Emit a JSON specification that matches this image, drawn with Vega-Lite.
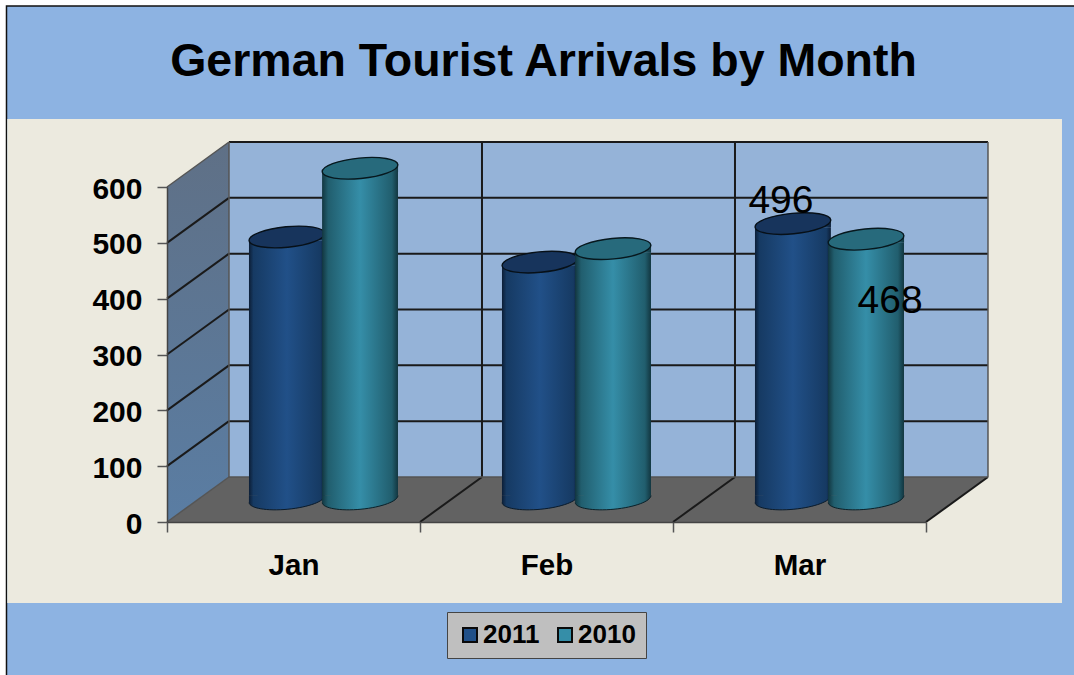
{
"$schema":"https://vega.github.io/schema/vega-lite/v6.json",
"width":759,"height":335,"autosize":"none",
"padding":{"left":167,"top":187,"right":148,"bottom":153},
"background":"#ffffff",
"config":{"view":{"stroke":null},"font":"Liberation Sans"},
"title":{"text":"German Tourist Arrivals by Month","font":"Liberation Sans","fontSize":46.5,"fontWeight":"bold","color":"#000000","anchor":"middle","baseline":"alphabetic","offset":-117.5,"dx":-3},
"datasets":{
"bars":[
{"month":"Jan","series":"2011","value":472},{"month":"Jan","series":"2010","value":595},
{"month":"Feb","series":"2011","value":427},{"month":"Feb","series":"2010","value":451},
{"month":"Mar","series":"2011","value":496},{"month":"Mar","series":"2010","value":468}],
"gridDark":[
{"x0":0.245,"x1":3.245,"y0":180.6,"y1":180.6},{"x0":0.245,"x1":3.245,"y0":280.6,"y1":280.6},{"x0":0.245,"x1":3.245,"y0":380.6,"y1":380.6},{"x0":0.245,"x1":3.245,"y0":480.6,"y1":480.6},{"x0":0.245,"x1":3.245,"y0":580.6,"y1":580.6},{"x0":0.245,"x1":3.245,"y0":680.6,"y1":680.6},
{"x0":0,"x1":0.245,"y0":100,"y1":180.6},{"x0":0,"x1":0.245,"y0":200,"y1":280.6},{"x0":0,"x1":0.245,"y0":300,"y1":380.6},{"x0":0,"x1":0.245,"y0":400,"y1":480.6},{"x0":0,"x1":0.245,"y0":500,"y1":580.6},
{"x0":1.245,"x1":1.245,"y0":80.6,"y1":680.6},{"x0":2.245,"x1":2.245,"y0":80.6,"y1":680.6},
{"x0":1,"x1":1.245,"y0":0,"y1":80.6},{"x0":2,"x1":2.245,"y0":0,"y1":80.6},{"x0":3,"x1":3.245,"y0":0,"y1":80.6}],
"gridEdge":[
{"x0":0.245,"x1":0.245,"y0":80.6,"y1":680.6},{"x0":3.245,"x1":3.245,"y0":80.6,"y1":680.6},
{"x0":0.245,"x1":3.245,"y0":80.6,"y1":80.6},
{"x0":0,"x1":0.245,"y0":0,"y1":80.6},{"x0":0,"x1":0.245,"y0":600,"y1":680.6}]
},
"layer":[
{"data":{"values":[{"x0":-0.6344,"x1":3.62,"y0":-290,"y1":924}]},
 "mark":{"type":"rect","fill":"#8DB3E2","stroke":"#111111","strokeWidth":1.5},
 "encoding":{
  "x":{"field":"x0","type":"quantitative","scale":{"domain":[0,3],"nice":false,"zero":false},
   "axis":{"title":null,"values":[0,0.5,1,1.5,2,2.5,3],"zindex":1,"grid":false,"labelExpr":"datum.value==0.5?'Jan':datum.value==1.5?'Feb':datum.value==2.5?'Mar':''","labelFont":"Liberation Sans","labelFontSize":29.5,"labelFontWeight":"bold","labelColor":"#000000","labelPadding":19,"labelFlush":false,"labelOverlap":false,"labelAngle":0,"tickSize":10,"tickWidth":1.5,"tickColor":"#555555","tickOpacity":{"condition":{"test":"datum.value==floor(datum.value)","value":1},"value":0},"domainColor":"#444444","domainWidth":1.5}},
  "x2":{"field":"x1"},
  "y":{"field":"y0","type":"quantitative","scale":{"domain":[0,600],"nice":false,"zero":false},
   "axis":{"title":null,"values":[0,100,200,300,400,500,600],"zindex":1,"grid":false,"labelFont":"Liberation Sans","labelFontSize":30,"labelFontWeight":"bold","labelColor":"#000000","labelPadding":15,"labelOffset":2,"labelOverlap":false,"tickSize":10,"tickWidth":1.5,"tickColor":"#555555","domainColor":"#444444","domainWidth":1.5}},
  "y2":{"field":"y1"}}},
{"data":{"values":[{"x0":-0.6315,"x1":3.5375,"y0":-145,"y1":721.8}]},
 "mark":{"type":"rect","fill":"#ECEADF"},
 "encoding":{"x":{"field":"x0","type":"quantitative","axis":{"title":null}},"x2":{"field":"x1"},"y":{"field":"y0","type":"quantitative","axis":{"title":null}},"y2":{"field":"y1"}}},
{"data":{"values":[{"x0":0.245,"x1":3.245,"y0":80.6,"y1":680.6}]},
 "mark":{"type":"rect","fill":"#95B3D8"},
 "encoding":{"x":{"field":"x0","type":"quantitative","axis":{"title":null}},"x2":{"field":"x1"},"y":{"field":"y0","type":"quantitative","axis":{"title":null}},"y2":{"field":"y1"}}},
{"data":{"values":[{"x":0,"lo":0,"hi":600},{"x":0.245,"lo":80.6,"hi":680.6}]},
 "mark":{"type":"area","fill":{"gradient":"linear","x1":0,"y1":0,"x2":0,"y2":1,"stops":[{"offset":0,"color":"#5F7086"},{"offset":1,"color":"#5A7DA3"}]}},
 "encoding":{"x":{"field":"x","type":"quantitative","axis":{"title":null}},"y":{"field":"lo","type":"quantitative","axis":{"title":null}},"y2":{"field":"hi"}}},
{"data":{"values":[{"x":0,"lo":0,"hi":0},{"x":0.245,"lo":0,"hi":80.6},{"x":3,"lo":0,"hi":80.6},{"x":3.245,"lo":80.6,"hi":80.6}]},
 "mark":{"type":"area","fill":"#626262"},
 "encoding":{"x":{"field":"x","type":"quantitative","axis":{"title":null}},"y":{"field":"lo","type":"quantitative","axis":{"title":null}},"y2":{"field":"hi"}}},
{"data":{"name":"gridDark"},
 "mark":{"type":"rule","color":"#1A1A1A","strokeWidth":2},
 "encoding":{"x":{"field":"x0","type":"quantitative","axis":{"title":null}},"x2":{"field":"x1"},"y":{"field":"y0","type":"quantitative","axis":{"title":null}},"y2":{"field":"y1"}}},
{"data":{"name":"gridEdge"},
 "mark":{"type":"rule","color":"#555555","strokeWidth":1.5},
 "encoding":{"x":{"field":"x0","type":"quantitative","axis":{"title":null}},"x2":{"field":"x1"},"y":{"field":"y0","type":"quantitative","axis":{"title":null}},"y2":{"field":"y1"}}},
{"data":{"name":"bars"},
 "transform":[{"filter":"datum.series=='2011'"},{"calculate":"indexof(['Jan','Feb','Mar'],datum.month)+0.324","as":"left"},{"calculate":"datum.left+0.3","as":"right"},{"calculate":"datum.left+0.15","as":"c"}],
 "encoding":{"x":{"field":"c","type":"quantitative","axis":{"title":null}},"y":{"field":"value","type":"quantitative","axis":{"title":null}}},
 "layer":[
  {"mark":{"type":"point","filled":true,"opacity":1,"size":5776,"yOffset":-23,"shape":"M0.9954,-0.0958C1.0097,0.0526,0.5757,0.2159,0.0259,0.2688C-0.5239,0.3217,-0.9811,0.2442,-0.9954,0.0958C-1.0097,-0.0526,-0.5757,-0.2159,-0.0259,-0.2688C0.5239,-0.3217,0.9811,-0.2442,0.9954,-0.0958ZM-1,-0.096L1,-0.096L-1,0.096Z","fill":{"gradient":"linear","x1":0,"y1":0,"x2":1,"y2":0,"stops":[{"offset":0,"color":"#0C1E36"},{"offset":0.06,"color":"#163A63"},{"offset":0.5,"color":"#215088"},{"offset":0.94,"color":"#163A63"},{"offset":1,"color":"#0C1E36"}]}},
   "encoding":{"y":{"datum":0,"type":"quantitative","axis":{"title":null}}}},
  {"mark":{"type":"point","filled":false,"opacity":1,"size":5776,"yOffset":-23,"stroke":"#0B1B2A","strokeWidth":1,"shape":"M0.9954,-0.0958C1.0097,0.0526,0.5757,0.2159,0.0259,0.2688C-0.5239,0.3217,-0.9811,0.2442,-0.9954,0.0958"},
   "encoding":{"y":{"datum":0,"type":"quantitative","axis":{"title":null}}}},
  {"mark":{"type":"rect","yOffset":-17.9,"y2Offset":-26.6,"fill":{"gradient":"linear","x1":0,"y1":0,"x2":1,"y2":0,"stops":[{"offset":0,"color":"#0C1E36"},{"offset":0.06,"color":"#163A63"},{"offset":0.5,"color":"#215088"},{"offset":0.94,"color":"#163A63"},{"offset":1,"color":"#0C1E36"}]}},
   "encoding":{"x":{"field":"left","type":"quantitative","axis":{"title":null}},"x2":{"field":"right"},"y2":{"datum":0}}},
  {"mark":{"type":"point","filled":true,"opacity":1,"size":5776,"yOffset":-21.5,"shape":"M-1,0.096L1,-0.096L1,0.096Z","fill":{"gradient":"linear","x1":0,"y1":0,"x2":1,"y2":0,"stops":[{"offset":0,"color":"#0C1E36"},{"offset":0.06,"color":"#163A63"},{"offset":0.5,"color":"#215088"},{"offset":0.94,"color":"#163A63"},{"offset":1,"color":"#0C1E36"}]}}},
  {"mark":{"type":"point","filled":true,"opacity":1,"size":5776,"yOffset":-21.5,"fill":"#17345C","stroke":"#071018","strokeWidth":1.4,"shape":"M0.9954,-0.0958C1.0097,0.0526,0.5757,0.2159,0.0259,0.2688C-0.5239,0.3217,-0.9811,0.2442,-0.9954,0.0958C-1.0097,-0.0526,-0.5757,-0.2159,-0.0259,-0.2688C0.5239,-0.3217,0.9811,-0.2442,0.9954,-0.0958Z"}}
 ]},
{"data":{"name":"bars"},
 "transform":[{"filter":"datum.series=='2010'"},{"calculate":"indexof(['Jan','Feb','Mar'],datum.month)+0.613","as":"left"},{"calculate":"datum.left+0.3","as":"right"},{"calculate":"datum.left+0.15","as":"c"}],
 "encoding":{"x":{"field":"c","type":"quantitative","axis":{"title":null}},"y":{"field":"value","type":"quantitative","axis":{"title":null}}},
 "layer":[
  {"mark":{"type":"point","filled":true,"opacity":1,"size":5776,"yOffset":-23,"shape":"M0.9954,-0.0958C1.0097,0.0526,0.5757,0.2159,0.0259,0.2688C-0.5239,0.3217,-0.9811,0.2442,-0.9954,0.0958C-1.0097,-0.0526,-0.5757,-0.2159,-0.0259,-0.2688C0.5239,-0.3217,0.9811,-0.2442,0.9954,-0.0958ZM-1,-0.096L1,-0.096L-1,0.096Z","fill":{"gradient":"linear","x1":0,"y1":0,"x2":1,"y2":0,"stops":[{"offset":0,"color":"#123640"},{"offset":0.08,"color":"#215E6E"},{"offset":0.5,"color":"#358EA8"},{"offset":0.92,"color":"#215E6E"},{"offset":1,"color":"#123640"}]}},
   "encoding":{"y":{"datum":0,"type":"quantitative","axis":{"title":null}}}},
  {"mark":{"type":"point","filled":false,"opacity":1,"size":5776,"yOffset":-23,"stroke":"#0B2028","strokeWidth":1,"shape":"M0.9954,-0.0958C1.0097,0.0526,0.5757,0.2159,0.0259,0.2688C-0.5239,0.3217,-0.9811,0.2442,-0.9954,0.0958"},
   "encoding":{"y":{"datum":0,"type":"quantitative","axis":{"title":null}}}},
  {"mark":{"type":"rect","yOffset":-17.9,"y2Offset":-26.6,"fill":{"gradient":"linear","x1":0,"y1":0,"x2":1,"y2":0,"stops":[{"offset":0,"color":"#123640"},{"offset":0.08,"color":"#215E6E"},{"offset":0.5,"color":"#358EA8"},{"offset":0.92,"color":"#215E6E"},{"offset":1,"color":"#123640"}]}},
   "encoding":{"x":{"field":"left","type":"quantitative","axis":{"title":null}},"x2":{"field":"right"},"y2":{"datum":0}}},
  {"mark":{"type":"point","filled":true,"opacity":1,"size":5776,"yOffset":-21.5,"shape":"M-1,0.096L1,-0.096L1,0.096Z","fill":{"gradient":"linear","x1":0,"y1":0,"x2":1,"y2":0,"stops":[{"offset":0,"color":"#123640"},{"offset":0.08,"color":"#215E6E"},{"offset":0.5,"color":"#358EA8"},{"offset":0.92,"color":"#215E6E"},{"offset":1,"color":"#123640"}]}}},
  {"mark":{"type":"point","filled":true,"opacity":1,"size":5776,"yOffset":-21.5,"fill":"#276A7C","stroke":"#07181E","strokeWidth":1.4,"shape":"M0.9954,-0.0958C1.0097,0.0526,0.5757,0.2159,0.0259,0.2688C-0.5239,0.3217,-0.9811,0.2442,-0.9954,0.0958C-1.0097,-0.0526,-0.5757,-0.2159,-0.0259,-0.2688C0.5239,-0.3217,0.9811,-0.2442,0.9954,-0.0958Z"}}
 ]},
{"data":{"name":"bars"},
 "transform":[{"filter":"datum.month=='Mar' && datum.series=='2011'"}],
 "mark":{"type":"text","font":"Liberation Sans","fontSize":39,"color":"#000000","align":"center","baseline":"middle","dx":-12,"dy":-44},
 "encoding":{"x":{"datum":2.474,"type":"quantitative","axis":{"title":null}},"y":{"field":"value","type":"quantitative","axis":{"title":null}},"text":{"field":"value","type":"quantitative"}}},
{"data":{"name":"bars"},
 "transform":[{"filter":"datum.month=='Mar' && datum.series=='2010'"}],
 "mark":{"type":"text","font":"Liberation Sans","fontSize":39,"color":"#000000","align":"center","baseline":"middle","dx":24,"dy":40},
 "encoding":{"x":{"datum":2.763,"type":"quantitative","axis":{"title":null}},"y":{"field":"value","type":"quantitative","axis":{"title":null}},"text":{"field":"value","type":"quantitative"}}},
{"data":{"name":"bars"},
 "mark":{"type":"point","filled":true,"opacity":1,"size":0,"shape":"square"},
 "encoding":{"x":{"datum":0,"type":"quantitative","axis":{"title":null}},"y":{"field":"value","type":"quantitative","axis":{"title":null}},
  "color":{"field":"series","type":"nominal","scale":{"domain":["2011","2010"],"range":["#215088","#358EA8"]},
   "legend":{"title":null,"orient":"none","legendX":280,"legendY":425,"direction":"horizontal","fillColor":"#BFBFBF","strokeColor":"#444444","padding":10,"symbolType":"square","symbolSize":196,"symbolStrokeColor":"#0A0A0A","symbolStrokeWidth":2,"symbolOpacity":1,"labelFont":"Liberation Sans","labelFontSize":26,"labelFontWeight":"bold","labelColor":"#000000","labelOffset":0,"columnPadding":12}}}}
]}
